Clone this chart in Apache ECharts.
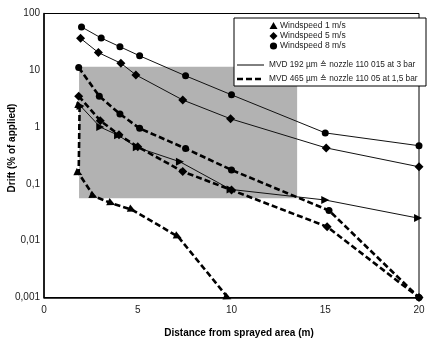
<!DOCTYPE html>
<html>
<head>
<meta charset="utf-8">
<script src="https://cdn.jsdelivr.net/npm/echarts@6/dist/echarts.min.js"></script>
<style>
html,body{margin:0;padding:0;background:#fff;}
#chart{width:430px;height:338px;}
</style>
</head>
<body>
<div id="chart"></div>
<script>
// ---- data ----
const xTickLabels = ['0', '5', '10', '15', '20'];
const yTickLabels = ['0,001', '0,01', '0,1', '1', '10', '100'];

const ws8SolidX = [2, 3.05, 4.05, 5.1, 7.55, 10, 15, 20];
const ws8SolidY = [58, 37, 26, 18, 8.0, 3.7, 0.79, 0.47];

const ws5SolidX = [1.95, 2.9, 4.1, 4.9, 7.4, 9.95, 15.05, 20];
const ws5SolidY = [36.5, 20.5, 13.3, 8.3, 3.0, 1.4, 0.43, 0.2];

const ws1SolidX = [1.95, 3, 3.95, 4.95, 7.25, 9.95, 15, 19.95];
const ws1SolidY = [2.35, 1.0, 0.72, 0.44, 0.245, 0.08, 0.052, 0.025];

const ws8DashX = [1.85, 2.95, 4.05, 5.1, 7.55, 10, 15.2, 20];
const ws8DashY = [11.2, 3.5, 1.7, 0.95, 0.42, 0.176, 0.034, 0.001];

const ws5DashX = [1.85, 3, 4, 5, 7.4, 10, 15.1, 20];
const ws5DashY = [3.5, 1.3, 0.73, 0.45, 0.165, 0.078, 0.0176, 0.001];

const ws1DashX = [1.9, 1.85, 2.65, 3.6, 4.7, 7.15, 9.8];
const ws1DashY = [2.35, 0.154, 0.061, 0.0455, 0.035, 0.0118, 0.001];

const shadeX = [1.87, 13.5];
const shadeY = [0.0557, 11.6];

const legendSymbols = ['Windspeed 1 m/s', 'Windspeed 5 m/s', 'Windspeed 8 m/s'];
const legendLines = ['MVD 192 µm ≙ nozzle 110 015 at 3 bar', 'MVD 465 µm ≙ nozzle 110 05 at 1,5 bar'];
const xTitle = 'Distance from sprayed area (m)';
const yTitle = 'Drift (% of applied)';

// ---- build ----
function pts(xs, ys) { return xs.map((x, i) => [x, ys[i]]); }
const FONT = 'Liberation Sans, Arial, sans-serif';
const solidStyle = { color: '#111', width: 1, type: 'solid' };
const dashStyle = { color: '#000', width: 2.6, type: [6, 3] };

function mk(name, xs, ys, symbol, size, dashed, rot) {
  return {
    type: 'line', name: name, data: pts(xs, ys),
    symbol: symbol, symbolSize: size, symbolRotate: rot || 0, showSymbol: true,
    itemStyle: { color: '#000', borderWidth: 0 },
    lineStyle: dashed ? dashStyle : solidStyle,
    z: 3, animation: false, silent: true
  };
}

const series = [
  {
    type: 'line', data: [], silent: true, z: 1, animation: false,
    markArea: {
      silent: true,
      itemStyle: { color: '#b2b2b2' },
      data: [[{ coord: [shadeX[0], shadeY[0]] }, { coord: [shadeX[1], shadeY[1]] }]]
    }
  },
  mk('ws8s', ws8SolidX, ws8SolidY, 'circle', 7, false),
  mk('ws5s', ws5SolidX, ws5SolidY, 'diamond', 9, false),
  mk('ws1s', ws1SolidX, ws1SolidY, 'triangle', 8, false, -90),
  mk('ws8d', ws8DashX, ws8DashY, 'circle', 7, true),
  mk('ws5d', ws5DashX, ws5DashY, 'diamond', 9, true),
  mk('ws1d', ws1DashX, ws1DashY, 'triangle', 8, true, -115)
];

const L = { x: 234, y: 18, w: 192, h: 68 };
const symRowsY = [26, 36, 46];
const lineRowsY = [65, 79];
const graphic = [
  { type: 'rect', shape: { x: L.x, y: L.y, width: L.w, height: L.h }, style: { fill: '#fff', stroke: '#000', lineWidth: 1 }, z: 100 },
  { type: 'polygon', shape: { points: [[273.5, symRowsY[0] - 4], [277.5, symRowsY[0] + 3], [269.5, symRowsY[0] + 3]] }, style: { fill: '#000' }, z: 101 },
  { type: 'polygon', shape: { points: [[273.5, symRowsY[1] - 4], [277.5, symRowsY[1]], [273.5, symRowsY[1] + 4], [269.5, symRowsY[1]]] }, style: { fill: '#000' }, z: 101 },
  { type: 'circle', shape: { cx: 273.5, cy: symRowsY[2], r: 3.6 }, style: { fill: '#000' }, z: 101 },
  { type: 'line', shape: { x1: 237, y1: lineRowsY[0], x2: 264, y2: lineRowsY[0] }, style: { stroke: '#000', lineWidth: 1 }, z: 101 },
  { type: 'line', shape: { x1: 237, y1: lineRowsY[1], x2: 264, y2: lineRowsY[1] }, style: { stroke: '#000', lineWidth: 2.6, lineDash: [6, 3] }, z: 101 }
];
legendSymbols.forEach((t, i) => {
  graphic.push({ type: 'text', x: 280, y: symRowsY[i], z: 101,
    style: { text: t, fill: '#222', font: '8.5px ' + FONT, textVerticalAlign: 'middle', verticalAlign: 'middle' } });
});
legendLines.forEach((t, i) => {
  graphic.push({ type: 'text', x: 269, y: lineRowsY[i], z: 101,
    style: { text: t, fill: '#222', font: '8.3px ' + FONT, textVerticalAlign: 'middle', verticalAlign: 'middle' } });
});
graphic.push({ type: 'text', x: 239, y: 333, z: 101,
  style: { text: xTitle, fill: '#000', font: 'bold 10px ' + FONT, align: 'center', textAlign: 'center', verticalAlign: 'middle', textVerticalAlign: 'middle' } });
graphic.push({ type: 'text', x: 12, y: 148, rotation: Math.PI / 2, z: 101,
  style: { text: yTitle, fill: '#000', font: 'bold 10px ' + FONT, align: 'center', textAlign: 'center', verticalAlign: 'middle', textVerticalAlign: 'middle' } });

const chart = echarts.init(document.getElementById('chart'), null, { renderer: 'canvas' });
chart.setOption({
  animation: false,
  backgroundColor: '#fff',
  grid: { left: 44, right: 11, top: 13.5, bottom: 40.5, show: true, borderColor: '#000', borderWidth: 1, backgroundColor: 'transparent' },
  xAxis: {
    type: 'value', min: 0, max: 20, interval: 5,
    axisLine: { show: true, lineStyle: { color: '#000', width: 1.5 } },
    axisTick: { show: false },
    splitLine: { show: false },
    axisLabel: { color: '#222', fontFamily: FONT, fontSize: 10, margin: 8,
      formatter: v => xTickLabels[Math.round(v / 5)] }
  },
  yAxis: {
    type: 'log', logBase: 10, min: 0.001, max: 100,
    axisLine: { show: true, lineStyle: { color: '#000', width: 1.5 } },
    axisTick: { show: false },
    splitLine: { show: false },
    axisLabel: { color: '#222', fontFamily: FONT, fontSize: 10, margin: 4,
      formatter: v => yTickLabels[Math.round(Math.log10(v)) + 3] }
  },
  series: series,
  graphic: graphic
});
</script>
</body>
</html>
